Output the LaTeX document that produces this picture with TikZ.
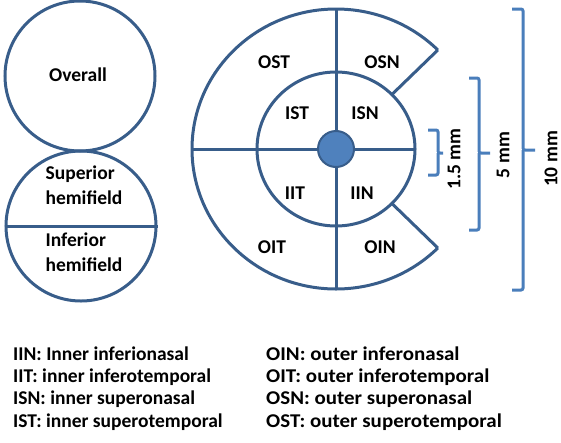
\documentclass[tikz,border=0pt]{standalone}
\usepackage{fontspec}
\usepackage{graphicx}
\setmainfont{Carlito}
\usetikzlibrary{calc}
\definecolor{ringline}{RGB}{56,93,138}
\definecolor{dotfill}{RGB}{79,129,189}
\definecolor{bracecol}{RGB}{74,126,187}
\newcommand{\widetext}[1]{\scalebox{1.075}[1]{#1}}
\tikzset{
  ring/.style={draw=ringline, line width=3pt},
  lbl/.style={font=\bfseries\fontsize{19.5}{25}\selectfont, inner sep=0pt},
  legend/.style={font=\bfseries\fontsize{19.5}{22}\selectfont, inner sep=0pt, anchor=west},
  brace/.style={draw=bracecol, line width=3pt, rounded corners=2pt},
}
\begin{document}
\begin{tikzpicture}[x=1pt,y=-1pt]
\useasboundingbox (0,0) rectangle (561,442);
% left circles
\node[ring, circle, minimum size=150pt, inner sep=0pt] (overall) at (80,76) {};
\node[lbl] (overallt) at (78,75) {Overall};
\node[ring, circle, minimum size=150pt, inner sep=0pt] (hemi) at (81,226) {};
\draw[ring] (hemi.west) -- (hemi.east);
\node[lbl, align=left] (sup) at (84,185.5) {Superior\\hemifield};
\node[lbl, align=left] (inf) at (84,252.5) {Inferior\\hemifield};
% big diagram
\coordinate (c) at (336,149);
\coordinate (otop) at ($(c)+(0,-140)$);
\coordinate (obot) at ($(c)+(0,140)$);
\coordinate (oleft) at ($(c)+(-144,0)$);
\coordinate (iright) at ($(c)+(79,0)$);
\coordinate (o1) at ($(c)+(-45:144 and 140)$);
\coordinate (o2) at ($(c)+(45:144 and 140)$);
\coordinate (i1) at ($(c)+(-45:79 and 77)$);
\coordinate (i2) at ($(c)+(45:79 and 77)$);
\draw[ring] (o1) arc[start angle=-45, end angle=-315, x radius=144, y radius=140];
\draw[ring] (c) ellipse[x radius=79, y radius=77];
\draw[ring] (o1) -- (i1);
\draw[ring] (o2) -- (i2);
\draw[ring] (oleft) -- (iright);
\draw[ring] (otop) -- (obot);
\node[circle, fill=dotfill, draw=ringline, line width=2pt, minimum size=36pt, inner sep=0pt] (dot) at (c) {};
\node[lbl] (ost) at (274,62) {OST};
\node[lbl] (osn) at (382,62) {OSN};
\node[lbl] (ist) at (297,113) {IST};
\node[lbl] (isn) at (365,113) {ISN};
\node[lbl] (iit) at (295,193) {IIT};
\node[lbl] (iin) at (362,193) {IIN};
\node[lbl] (oit) at (272,247) {OIT};
\node[lbl] (oin) at (380,247) {OIN};
% braces
\draw[brace] (428,130) -- (438,130) -- (438,153) -- (443,153);
\draw[brace] (428,175) -- (438,175) -- (438,153);
\draw[brace] (469,78) -- (479,78) -- (479,153) -- (490,153);
\draw[brace] (469,230) -- (479,230) -- (479,153);
\draw[brace] (512,9) -- (523,9) -- (523,150) -- (535,150);
\draw[brace] (512,290) -- (523,290) -- (523,150);
\node[lbl, rotate=90] (m15) at (454,159) {1.5 mm};
\node[lbl, rotate=90] (m5) at (503,155) {5 mm};
\node[lbl, rotate=90] (m10) at (551,159) {10 mm};
% legend
\node[legend] (l1) at (13,354) {IIN: Inner inferionasal};
\node[legend] (l2) at (13,377) {IIT: inner inferotemporal};
\node[legend] (l3) at (13,399) {ISN: inner superonasal};
\node[legend] (l4) at (13,422) {IST: inner superotemporal};
\node[legend] (r1) at (266,354) {\widetext{OIN: outer inferonasal}};
\node[legend] (r2) at (266,377) {\widetext{OIT: outer inferotemporal}};
\node[legend] (r3) at (266,399) {\widetext{OSN: outer superonasal}};
\node[legend] (r4) at (266,422) {\widetext{OST: outer superotemporal}};
\end{tikzpicture}
\end{document}
